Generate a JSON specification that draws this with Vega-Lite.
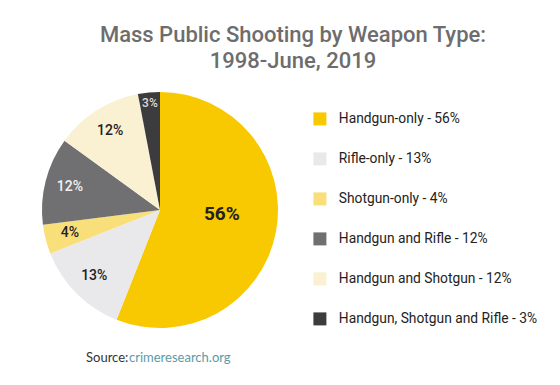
{
  "$schema": "https://vega.github.io/schema/vega-lite/v6.json",
  "autosize": {"type": "none"},
  "width": 236,
  "height": 236,
  "padding": {"left": 42, "top": 92, "right": 282, "bottom": 57},
  "background": "white",
  "view": {"stroke": null},
  "title": {
    "text": ["Mass Public Shooting by Weapon Type:", "1998-June, 2019"],
    "font": "Roboto",
    "fontSize": 22,
    "fontWeight": 500,
    "color": "#6d6d6d",
    "lineHeight": 26,
    "anchor": "middle",
    "dx": 133,
    "offset": 19
  },
  "data": {
    "values": [
      {"n": 1, "weapon": "Handgun-only", "label": "Handgun-only - 56%", "pct": 56, "text": "56%"},
      {"n": 2, "weapon": "Rifle-only", "label": "Rifle-only - 13%", "pct": 13, "text": "13%"},
      {"n": 3, "weapon": "Shotgun-only", "label": "Shotgun-only - 4%", "pct": 4, "text": "4%"},
      {"n": 4, "weapon": "Handgun and Rifle", "label": "Handgun and Rifle - 12%", "pct": 12, "text": "12%"},
      {"n": 5, "weapon": "Handgun and Shotgun", "label": "Handgun and Shotgun - 12%", "pct": 12, "text": "12%"},
      {"n": 6, "weapon": "Handgun, Shotgun and Rifle", "label": "Handgun, Shotgun and Rifle - 3%", "pct": 3, "text": "3%"}
    ]
  },
  "encoding": {
    "theta": {"field": "pct", "type": "quantitative", "stack": true},
    "order": {"field": "n", "type": "quantitative"}
  },
  "layer": [
    {
      "mark": {"type": "arc", "outerRadius": 118},
      "encoding": {
        "color": {
          "field": "label",
          "type": "nominal",
          "scale": {
            "domain": ["Handgun-only - 56%", "Rifle-only - 13%", "Shotgun-only - 4%", "Handgun and Rifle - 12%", "Handgun and Shotgun - 12%", "Handgun, Shotgun and Rifle - 3%"],
            "range": ["#F8C800", "#E9E9EB", "#F8DF7A", "#707072", "#FAF1D3", "#3C3C3E"]
          },
          "legend": {
            "title": null,
            "orient": "none",
            "legendX": 271,
            "legendY": 20,
            "symbolType": "square",
            "symbolSize": 169,
            "symbolStrokeWidth": 0,
            "symbolOpacity": 1,
            "labelFont": "Roboto",
            "labelFontSize": 13.8,
            "labelColor": "#222222",
            "labelOffset": 12,
            "labelLimit": 300,
            "rowPadding": 25,
            "padding": 0
          }
        }
      }
    },
    {
      "mark": {"type": "text", "radius": 63, "dy": -8, "font": "Roboto", "fontSize": 19, "fontWeight": "bold", "color": "#222222"},
      "encoding": {
        "text": {"condition": {"test": "datum.n == 1", "field": "text"}, "value": ""}
      }
    },
    {
      "mark": {"type": "text", "radius": 93, "font": "Roboto", "fontSize": 14, "fontWeight": 500},
      "encoding": {
        "text": {"condition": {"test": "datum.n >= 2 && datum.n <= 5", "field": "text"}, "value": ""},
        "color": {"condition": {"test": "datum.n == 4", "value": "#f2f2f2"}, "value": "#222222"}
      }
    },
    {
      "mark": {"type": "text", "radius": 107, "font": "Roboto", "fontSize": 12, "fontWeight": 500, "color": "#dddddd"},
      "encoding": {
        "text": {"condition": {"test": "datum.n == 6", "field": "text"}, "value": ""}
      }
    },
    {
      "data": {"values": [{"t": "Source:"}]},
      "mark": {"type": "text", "align": "left", "baseline": "alphabetic", "font": "Lato", "fontSize": 13, "color": "#333333"},
      "encoding": {
        "theta": null,
        "order": null,
        "text": {"field": "t"},
        "x": {"value": 44},
        "y": {"value": 270}
      }
    },
    {
      "data": {"values": [{"t": "crimeresearch.org"}]},
      "mark": {"type": "text", "align": "left", "baseline": "alphabetic", "font": "Lato", "fontSize": 13, "color": "#5b9aa8"},
      "encoding": {
        "theta": null,
        "order": null,
        "text": {"field": "t"},
        "x": {"value": 87},
        "y": {"value": 270}
      }
    }
  ]
}
